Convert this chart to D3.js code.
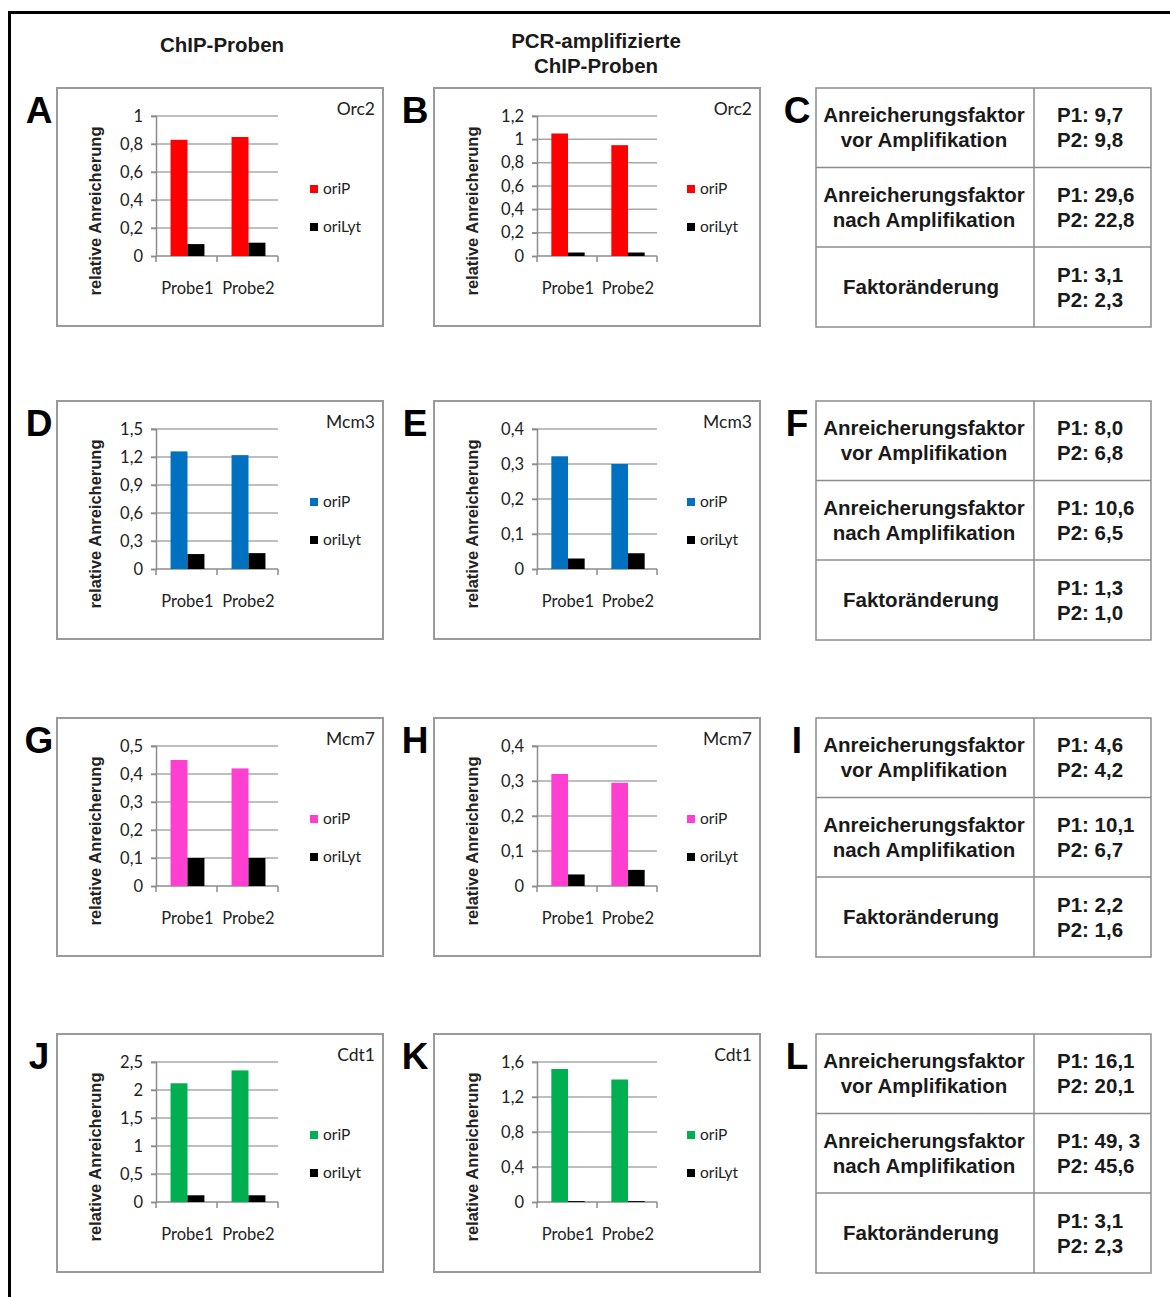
<!DOCTYPE html>
<html lang="de">
<head>
  <meta charset="UTF-8">
  <title>ChIP-Proben</title>
  <style>
    body { margin: 0; background: #fff; }
    svg { display: block; }
    .tick-label, .cat-label, .legend-label, .chart-title { font-family: Lato, "DejaVu Sans Condensed", sans-serif; fill: #222; }
    .y-title { font-family: "Liberation Sans", Arial, sans-serif; font-weight: bold; fill: #222; }
    .tbl-text, .header { font-family: "Liberation Sans", Arial, sans-serif; font-weight: bold; fill: #1a1a1a; }
    .panel-letter { font-family: "Liberation Sans", Arial, sans-serif; font-weight: bold; fill: #000; }
  </style>
</head>
<body>
<div id="chart"></div>

<script src="https://cdn.jsdelivr.net/npm/d3@7"></script>
<script>
  // --- data ---
  const categories = ["Probe1", "Probe2"];
  const series = ["oriP", "oriLyt"];
  const proteins = ["Orc2", "Mcm3", "Mcm7", "Cdt1"];
  const oriPColors = ["#ff0000", "#0070c0", "#ff3fd0", "#00b050"];
  const oriLytColor = "#000000";

  // ChIP-Proben (left column)
  const chipOriP   = [[0.83, 0.85], [1.26, 1.22], [0.45, 0.42], [2.12, 2.35]];
  const chipOriLyt = [[0.085, 0.095], [0.16, 0.17], [0.10, 0.10], [0.12, 0.12]];
  const chipTicks  = [[0, 0.2, 0.4, 0.6, 0.8, 1], [0, 0.3, 0.6, 0.9, 1.2, 1.5],
                      [0, 0.1, 0.2, 0.3, 0.4, 0.5], [0, 0.5, 1, 1.5, 2, 2.5]];

  // PCR-amplifizierte ChIP-Proben (middle column)
  const pcrOriP   = [[1.05, 0.95], [0.322, 0.30], [0.32, 0.295], [1.52, 1.40]];
  const pcrOriLyt = [[0.03, 0.03], [0.03, 0.045], [0.033, 0.046], [0.01, 0.01]];
  const pcrTicks  = [[0, 0.2, 0.4, 0.6, 0.8, 1, 1.2], [0, 0.1, 0.2, 0.3, 0.4],
                     [0, 0.1, 0.2, 0.3, 0.4], [0, 0.4, 0.8, 1.2, 1.6]];

  // tables (right column)
  const rowLabels = [["Anreicherungsfaktor", "vor Amplifikation"],
                     ["Anreicherungsfaktor", "nach Amplifikation"],
                     ["Faktoränderung"]];
  const tableValues = [
    [["P1: 9,7", "P2: 9,8"], ["P1: 29,6", "P2: 22,8"], ["P1: 3,1", "P2: 2,3"]],
    [["P1: 8,0", "P2: 6,8"], ["P1: 10,6", "P2: 6,5"], ["P1: 1,3", "P2: 1,0"]],
    [["P1: 4,6", "P2: 4,2"], ["P1: 10,1", "P2: 6,7"], ["P1: 2,2", "P2: 1,6"]],
    [["P1: 16,1", "P2: 20,1"], ["P1: 49, 3", "P2: 45,6"], ["P1: 3,1", "P2: 2,3"]]
  ];

  const letters = [["A", "B", "C"], ["D", "E", "F"], ["G", "H", "I"], ["J", "K", "L"]];

  // --- layout ---
  const W = 1170, H = 1297;
  const rowY = [88, 401, 718, 1034];
  const colX = [57, 434];
  const boxW = 326, boxH = 238;
  const plotLeft = [99, 103], plotW = [122, 120];
  const tbl = {x: 816, mid: 1034, right: 1151, h: 239};
  const letterX = [39, 415, 797];

  const svg = d3.select("#chart").append("svg")
    .attr("width", W)
    .attr("height", H);

  // outer frame
  svg.append("path")
    .attr("d", "M9.5," + H + "V12.5H" + W)
    .attr("fill", "none")
    .attr("stroke", "#000")
    .attr("stroke-width", 3);

  // column headers
  svg.append("text").attr("class", "header")
    .attr("x", 222).attr("y", 52).attr("text-anchor", "middle")
    .attr("font-size", 20.5).text("ChIP-Proben");
  svg.append("text").attr("class", "header")
    .attr("x", 596).attr("y", 48).attr("text-anchor", "middle")
    .attr("font-size", 20.5).text("PCR-amplifizierte");
  svg.append("text").attr("class", "header")
    .attr("x", 596).attr("y", 73).attr("text-anchor", "middle")
    .attr("font-size", 20.5).text("ChIP-Proben");

  const fmt = v => String(v).replace(".", ",");

  function drawChart(col, row, oriP, oriLyt, ticks) {
    const bx = colX[col], by = rowY[row];
    const g = svg.append("g");

    g.append("rect")
      .attr("x", bx).attr("y", by)
      .attr("width", boxW).attr("height", boxH)
      .attr("fill", "#fff")
      .attr("stroke", "#9a9a9a")
      .attr("stroke-width", 2);

    const left = bx + plotLeft[col], right = left + plotW[col];
    const top = by + 28, bottom = by + 168;

    const y = d3.scaleLinear()
      .domain([0, d3.max(ticks)])
      .range([bottom, top]);

    const x = d3.scaleBand()
      .domain(categories)
      .range([left, right]);

    const xs = d3.scaleBand()
      .domain(series)
      .range([0, x.bandwidth()])
      .paddingOuter(0.8);

    // grid lines
    g.selectAll(".grid")
      .data(ticks.filter(t => t > 0))
      .enter().append("line")
      .attr("x1", left - 5).attr("x2", right)
      .attr("y1", d => y(d)).attr("y2", d => y(d))
      .attr("stroke", "#a8a8a8")
      .attr("stroke-width", 1.5);

    // axes
    const yAxis = d3.axisLeft(y).tickValues(ticks).tickSize(5).tickFormat("");
    const ya = g.append("g").attr("transform", "translate(" + left + ",0)").call(yAxis);
    ya.select(".domain").attr("stroke", "#8c8c8c").attr("stroke-width", 1.5);
    ya.selectAll(".tick line").attr("stroke", "#8c8c8c").attr("stroke-width", 1.5);

    g.selectAll(".tick-label")
      .data(ticks)
      .enter().append("text")
      .attr("class", "tick-label")
      .attr("x", left - 13)
      .attr("y", d => y(d) + 5.5)
      .attr("text-anchor", "end")
      .attr("font-size", 16.5)
      .text(fmt);

    // bottom axis with category boundary ticks
    g.append("line")
      .attr("x1", left).attr("x2", right)
      .attr("y1", bottom).attr("y2", bottom)
      .attr("stroke", "#8c8c8c").attr("stroke-width", 1.5);
    g.selectAll(".xtick")
      .data(categories.concat(["end"]))
      .enter().append("line")
      .attr("x1", (d, i) => left + i * x.step())
      .attr("x2", (d, i) => left + i * x.step())
      .attr("y1", bottom).attr("y2", bottom + 6)
      .attr("stroke", "#8c8c8c").attr("stroke-width", 1.5);

    // bars
    const vals = [oriP, oriLyt];
    const colors = [oriPColors[row], oriLytColor];
    series.forEach((s, si) => {
      g.selectAll(".bar-" + s)
        .data(categories)
        .enter().append("rect")
        .attr("x", (c) => x(c) + xs(s) + 1)
        .attr("y", (c, i) => y(vals[si][i]))
        .attr("width", xs.bandwidth())
        .attr("height", (c, i) => bottom - y(vals[si][i]))
        .attr("fill", colors[si]);
    });

    // category labels
    g.selectAll(".cat-label")
      .data(categories)
      .enter().append("text")
      .attr("class", "cat-label")
      .attr("x", c => x(c) + x.bandwidth() / 2 + 1)
      .attr("y", bottom + 38)
      .attr("text-anchor", "middle")
      .attr("font-size", 16.5)
      .text(c => c);

    // y title
    g.append("text")
      .attr("class", "y-title")
      .attr("transform", "translate(" + (bx + 44) + "," + (by + 123) + ") rotate(-90)")
      .attr("text-anchor", "middle")
      .attr("font-size", 16.5)
      .text("relative Anreicherung");

    // chart title
    g.append("text")
      .attr("class", "chart-title")
      .attr("x", bx + boxW - 8)
      .attr("y", by + 27)
      .attr("text-anchor", "end")
      .attr("font-size", 17.5)
      .text(proteins[row]);

    // legend
    series.forEach((s, si) => {
      const ly = by + 101 + si * 38;
      g.append("rect")
        .attr("x", bx + 253).attr("y", ly - 4)
        .attr("width", 8).attr("height", 8)
        .attr("fill", colors[si]);
      g.append("text")
        .attr("class", "legend-label")
        .attr("x", bx + 266).attr("y", ly + 5)
        .attr("font-size", 15.5)
        .text(s);
    });
  }

  function drawTable(row) {
    const ty = rowY[row];
    const g = svg.append("g");
    const rowTops = [0, 79.5, 159, tbl.h];

    g.append("rect")
      .attr("x", tbl.x).attr("y", ty)
      .attr("width", tbl.right - tbl.x).attr("height", tbl.h)
      .attr("fill", "#fff")
      .attr("stroke", "#8c8c8c").attr("stroke-width", 1.5);
    g.append("line")
      .attr("x1", tbl.mid).attr("x2", tbl.mid)
      .attr("y1", ty).attr("y2", ty + tbl.h)
      .attr("stroke", "#8c8c8c").attr("stroke-width", 1.5);
    g.selectAll(".rowline")
      .data(rowTops.slice(1, 3))
      .enter().append("line")
      .attr("x1", tbl.x).attr("x2", tbl.right)
      .attr("y1", d => ty + d).attr("y2", d => ty + d)
      .attr("stroke", "#8c8c8c").attr("stroke-width", 1.5);

    rowLabels.forEach((lines, ri) => {
      const cy = ty + (rowTops[ri] + rowTops[ri + 1]) / 2;
      lines.forEach((t, li) => {
        g.append("text")
          .attr("class", "tbl-text")
          .attr("x", (tbl.x + tbl.mid) / 2 - (lines.length === 1 ? 4 : 1))
          .attr("y", cy + (li - (lines.length - 1) / 2) * 25 + 7)
          .attr("text-anchor", "middle")
          .attr("font-size", 20.5)
          .text(t);
      });
      tableValues[row][ri].forEach((t, li) => {
        g.append("text")
          .attr("class", "tbl-text")
          .attr("x", tbl.mid + 23)
          .attr("y", cy + (li - 0.5) * 25 + 7)
          .attr("font-size", 20.5)
          .text(t);
      });
    });
  }

  proteins.forEach((p, row) => {
    drawChart(0, row, chipOriP[row], chipOriLyt[row], chipTicks[row]);
    drawChart(1, row, pcrOriP[row], pcrOriLyt[row], pcrTicks[row]);
    drawTable(row);

    letters[row].forEach((l, ci) => {
      svg.append("text")
        .attr("class", "panel-letter")
        .attr("x", letterX[ci])
        .attr("y", rowY[row] + 35)
        .attr("text-anchor", "middle")
        .attr("font-size", 37)
        .text(l);
    });
  });
</script>
</body>
</html>
